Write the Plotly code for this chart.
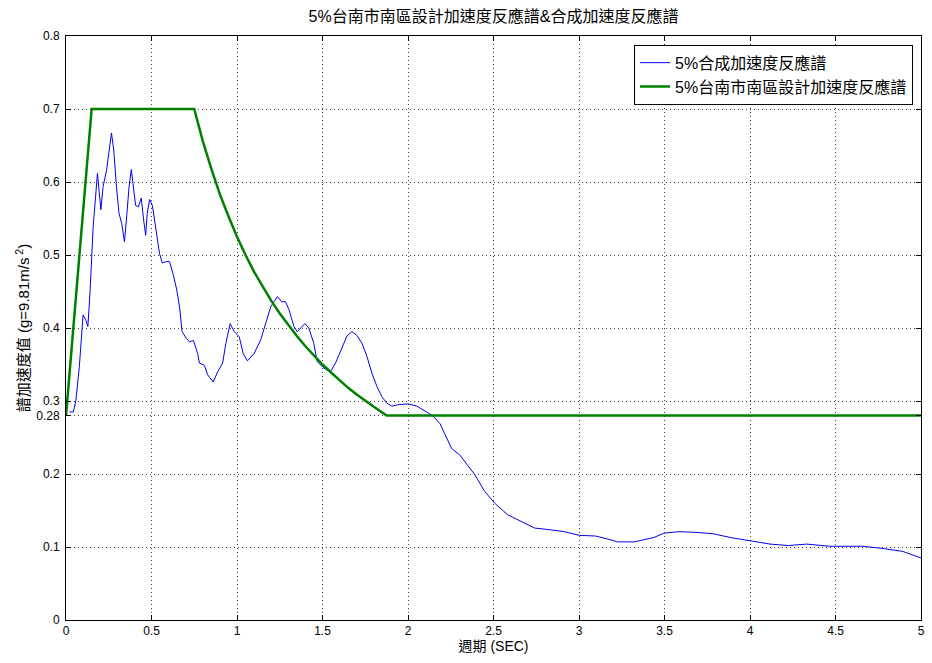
import plotly.graph_objects as go

# Composite (synthetic) 5% acceleration response spectrum
T_resp = [0.02, 0.043, 0.058, 0.078, 0.10, 0.116, 0.128, 0.14, 0.159, 0.175, 0.184, 0.194, 0.204,
          0.217, 0.237, 0.266, 0.279, 0.295, 0.310, 0.326, 0.342, 0.353, 0.369, 0.382, 0.396,
          0.407, 0.423, 0.44, 0.454, 0.466, 0.475, 0.489, 0.505, 0.528, 0.547, 0.563, 0.586,
          0.605, 0.625, 0.648, 0.664, 0.679, 0.703, 0.722, 0.745, 0.770, 0.78, 0.809, 0.828,
          0.861, 0.887, 0.916, 0.935, 0.960, 0.984, 1.013, 1.036, 1.061, 1.10, 1.139, 1.168,
          1.197, 1.236, 1.261, 1.284, 1.304, 1.333, 1.352, 1.397, 1.420, 1.449, 1.469, 1.508,
          1.546, 1.576, 1.614, 1.643, 1.672, 1.701, 1.731, 1.760, 1.789, 1.818, 1.847, 1.876,
          1.905, 1.944, 2.002, 2.051, 2.109, 2.148, 2.187, 2.255, 2.303, 2.391, 2.449, 2.507,
          2.584, 2.662, 2.740, 2.817, 2.914, 3.002, 3.098, 3.166, 3.225, 3.322, 3.380, 3.438,
          3.497, 3.584, 3.690, 3.788, 3.885, 4.001, 4.117, 4.224, 4.331, 4.466, 4.660, 4.777,
          4.893, 5.0]
Sa_resp = [0.285, 0.285, 0.301, 0.347, 0.418, 0.411, 0.402, 0.447, 0.539, 0.594, 0.612, 0.587, 0.562,
           0.594, 0.616, 0.667, 0.644, 0.594, 0.557, 0.543, 0.518, 0.548, 0.594, 0.617, 0.589,
           0.568, 0.566, 0.578, 0.548, 0.527, 0.557, 0.576, 0.568, 0.534, 0.502, 0.489, 0.491,
           0.491, 0.475, 0.452, 0.429, 0.395, 0.386, 0.381, 0.383, 0.365, 0.352, 0.349, 0.336,
           0.326, 0.340, 0.352, 0.379, 0.406, 0.395, 0.388, 0.365, 0.355, 0.365, 0.384, 0.406,
           0.429, 0.443, 0.436, 0.436, 0.425, 0.402, 0.395, 0.406, 0.400, 0.379, 0.354, 0.345,
           0.340, 0.352, 0.374, 0.389, 0.395, 0.390, 0.379, 0.361, 0.338, 0.320, 0.306, 0.297,
           0.293, 0.295, 0.296, 0.293, 0.285, 0.279, 0.269, 0.235, 0.226, 0.199, 0.176, 0.160,
           0.144, 0.135, 0.126, 0.124, 0.121, 0.116, 0.115, 0.111, 0.107, 0.107, 0.110, 0.113,
           0.119, 0.121, 0.120, 0.118, 0.113, 0.108, 0.104, 0.102, 0.104, 0.101, 0.101, 0.098,
           0.094, 0.085]

# Design spectrum (Tainan, south district)
T_design = [0.0, 0.15, 0.75, 0.8, 0.85, 0.9, 0.95, 1.0, 1.05, 1.1, 1.15, 1.2, 1.25, 1.3, 1.35,
            1.4, 1.45, 1.5, 1.55, 1.6, 1.65, 1.7, 1.75, 1.8, 1.875, 5.0]
Sa_design = [0.28, 0.70, 0.70, 0.656, 0.618, 0.583, 0.553, 0.525, 0.500, 0.477, 0.457, 0.4375,
             0.420, 0.404, 0.389, 0.375, 0.362, 0.350, 0.339, 0.328, 0.318, 0.309, 0.300,
             0.292, 0.28, 0.28]

x_ticks = [0, 0.5, 1, 1.5, 2, 2.5, 3, 3.5, 4, 4.5, 5]
x_labels = ["0", "0.5", "1", "1.5", "2", "2.5", "3", "3.5", "4", "4.5", "5"]
y_ticks = [0, 0.1, 0.2, 0.28, 0.3, 0.4, 0.5, 0.6, 0.7, 0.8]
y_labels = ["0", "0.1", "0.2", "0.28", "0.3", "0.4", "0.5", "0.6", "0.7", "0.8"]

FONT = "Liberation Sans, Noto Sans CJK TC, sans-serif"

fig = go.Figure()
fig.add_trace(go.Scatter(x=T_resp, y=Sa_resp, mode="lines", name="5%合成加速度反應譜",
                         line=dict(color="#0000f0", width=1)))
fig.add_trace(go.Scatter(x=T_design, y=Sa_design, mode="lines", name="5%台南市南區設計加速度反應譜",
                         line=dict(color="#008000", width=2.5)))

axis_common = dict(showline=True, linecolor="black", linewidth=1, mirror="allticks",
                   ticks="inside", ticklen=5, tickcolor="black",
                   showgrid=True, gridcolor="#404040", gridwidth=1, griddash="1px,3px",
                   zeroline=False, tickfont=dict(family=FONT, size=12, color="black"))

fig.update_layout(
    width=932, height=663,
    margin=dict(l=66, r=7, t=36, b=43),
    paper_bgcolor="white", plot_bgcolor="white",
    title=dict(text="5%台南市南區設計加速度反應譜&合成加速度反應譜", x=0.5, xanchor="center",
               xref="paper", y=0.975, yanchor="middle",
               font=dict(family=FONT, size=16, color="black")),
    xaxis=dict(range=[0, 5], tickvals=x_ticks, ticktext=x_labels,
               title=dict(text="週期 (SEC)", standoff=0, font=dict(family=FONT, size=14, color="black")),
               **axis_common),
    yaxis=dict(range=[0, 0.8], tickvals=y_ticks, ticktext=y_labels, ticklabelstandoff=3,
               title=dict(text="譜加速度值 (g=9.81m/s<sup> 2</sup>)", standoff=2,
                          font=dict(family=FONT, size=15, color="black")),
               **axis_common),
    legend=dict(x=0.9907, y=0.985, xanchor="right", yanchor="top",
                bordercolor="black", borderwidth=1, bgcolor="white",
                font=dict(family=FONT, size=16, color="black"),
                tracegroupgap=0),
    showlegend=True,
)

fig.write_html("out.html")
